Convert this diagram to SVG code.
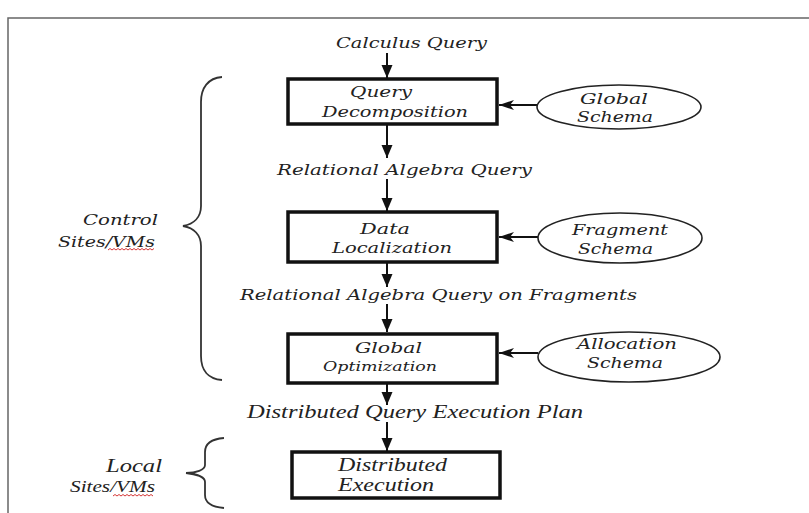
<svg xmlns="http://www.w3.org/2000/svg" width="809" height="513" viewBox="0 0 809 513">
<style>
.bx{fill:#fff;stroke:#111;stroke-width:3.5}
.el{fill:#fff;stroke:#222;stroke-width:1.6}
.ln{stroke:#111;stroke-width:2;fill:none}
.br{stroke:#333;stroke-width:1.8;fill:none}
.t{font-family:"DejaVu Serif",serif;font-style:italic;font-size:15px;fill:#222}
.tm{font-family:"Liberation Serif",serif;font-style:italic;font-size:18px;fill:#222}
.sq{stroke:#d02020;stroke-width:0.9;fill:none}
</style>
<defs>
<marker id="ah" markerUnits="userSpaceOnUse" markerWidth="14" markerHeight="14" viewBox="0 0 14 14" refX="13" refY="7" orient="auto">
<path d="M0,1.5 L13,7 L0,12.5 Z" fill="#111"/>
</marker>
<marker id="ab" markerUnits="userSpaceOnUse" markerWidth="16" markerHeight="12" viewBox="0 0 16 12" refX="15" refY="6" orient="auto">
<path d="M0,1 L15,6 L0,11 L4,6 Z" fill="#111"/>
</marker>
</defs>
<rect width="809" height="513" fill="#fff"/>
<path d="M8,513 L8,18 L809,18" fill="none" stroke="#666" stroke-width="1.5"/>

<g id="connectors">
<line class="ln" x1="387" y1="53" x2="387" y2="78" marker-end="url(#ah)"/>
<line class="ln" x1="387" y1="124" x2="387" y2="158" marker-end="url(#ah)"/>
<line class="ln" x1="387" y1="179" x2="387" y2="211" marker-end="url(#ah)"/>
<line class="ln" x1="387" y1="262" x2="387" y2="287" marker-end="url(#ah)"/>
<line class="ln" x1="387" y1="304" x2="387" y2="332" marker-end="url(#ah)"/>
<line class="ln" x1="387" y1="383" x2="387" y2="405" marker-end="url(#ah)"/>
<line class="ln" x1="387" y1="422" x2="387" y2="451" marker-end="url(#ah)"/>
<line class="ln" x1="537" y1="105" x2="499" y2="105" marker-end="url(#ab)"/>
<line class="ln" x1="538" y1="237" x2="499" y2="237" marker-end="url(#ab)"/>
<line class="ln" x1="538" y1="353" x2="499" y2="353" marker-end="url(#ab)"/>
</g>

<g id="labels">
<text class="t" x="336" y="48" textLength="151" lengthAdjust="spacingAndGlyphs">Calculus Query</text>
<text class="t" x="277" y="175" textLength="255" lengthAdjust="spacingAndGlyphs">Relational Algebra Query</text>
<text class="t" x="240" y="300" textLength="397" lengthAdjust="spacingAndGlyphs">Relational Algebra Query on Fragments</text>
<text class="tm" x="247" y="418" textLength="336" lengthAdjust="spacingAndGlyphs">Distributed Query Execution Plan</text>
</g>

<g id="query-decomposition">
<rect class="bx" x="288" y="79" width="209" height="45"/>
<text class="t" x="350" y="97" textLength="62" lengthAdjust="spacingAndGlyphs">Query</text>
<text class="t" x="322" y="117" textLength="146" lengthAdjust="spacingAndGlyphs">Decomposition</text>
</g>

<g id="data-localization">
<rect class="bx" x="288" y="212" width="209" height="50"/>
<text class="t" x="360" y="234" textLength="50" lengthAdjust="spacingAndGlyphs">Data</text>
<text class="t" x="332" y="253" textLength="120" lengthAdjust="spacingAndGlyphs">Localization</text>
</g>

<g id="global-optimization">
<rect class="bx" x="288" y="334" width="209" height="49"/>
<text class="t" x="355" y="353" textLength="67" lengthAdjust="spacingAndGlyphs">Global</text>
<text class="t" x="323" y="371" textLength="114" lengthAdjust="spacingAndGlyphs" style="font-size:13px">Optimization</text>
</g>

<g id="distributed-execution">
<rect class="bx" x="292" y="452" width="208" height="46"/>
<text class="tm" x="338" y="471" textLength="109" lengthAdjust="spacingAndGlyphs">Distributed</text>
<text class="tm" x="338" y="491" textLength="96" lengthAdjust="spacingAndGlyphs">Execution</text>
</g>

<g id="global-schema">
<ellipse class="el" cx="619" cy="107" rx="82" ry="22"/>
<text class="t" x="580" y="104" textLength="68" lengthAdjust="spacingAndGlyphs">Global</text>
<text class="t" x="577" y="122" textLength="76" lengthAdjust="spacingAndGlyphs">Schema</text>
</g>

<g id="fragment-schema">
<ellipse class="el" cx="620" cy="238" rx="82" ry="25"/>
<text class="t" x="572" y="235" textLength="96" lengthAdjust="spacingAndGlyphs">Fragment</text>
<text class="t" x="578" y="254" textLength="75" lengthAdjust="spacingAndGlyphs">Schema</text>
</g>

<g id="allocation-schema">
<ellipse class="el" cx="629" cy="357" rx="91" ry="25"/>
<text class="t" x="577" y="349" textLength="100" lengthAdjust="spacingAndGlyphs">Allocation</text>
<text class="t" x="587" y="368" textLength="76" lengthAdjust="spacingAndGlyphs">Schema</text>
</g>

<g id="control-sites">
<path class="br" d="M222,77 C208,78 201,88 201,102 L201,206 C201,217 194,224 183,226 C194,228 201,235 201,246 L201,356 C201,370 208,379 222,380"/>
<text class="t" x="83" y="225" textLength="75" lengthAdjust="spacingAndGlyphs">Control</text>
<text class="t" x="58" y="247" textLength="97" lengthAdjust="spacingAndGlyphs">Sites/VMs</text>
<path class="sq" d="M108,250 l2,-1.5 l2,1.5 l2,-1.5 l2,1.5 l2,-1.5 l2,1.5 l2,-1.5 l2,1.5 l2,-1.5 l2,1.5 l2,-1.5 l2,1.5 l2,-1.5 l2,1.5 l2,-1.5 l2,1.5 l2,-1.5 l2,1.5 l2,-1.5 l2,1.5 l2,-1.5 l2,1.5 l2,-1.5"/>
</g>

<g id="local-sites">
<path class="br" d="M224,438 C212,439 205,444 205,452 L205,465 C205,470 196,473 186,473 C196,474 205,477 205,482 L205,495 C205,503 212,507 224,508"/>
<text class="tm" x="106" y="472" textLength="56" lengthAdjust="spacingAndGlyphs">Local</text>
<text class="tm" x="70" y="492" textLength="85" lengthAdjust="spacingAndGlyphs" style="font-size:16px">Sites/VMs</text>
<path class="sq" d="M113,496 l2,-1.5 l2,1.5 l2,-1.5 l2,1.5 l2,-1.5 l2,1.5 l2,-1.5 l2,1.5 l2,-1.5 l2,1.5 l2,-1.5 l2,1.5 l2,-1.5 l2,1.5 l2,-1.5 l2,1.5 l2,-1.5 l2,1.5 l2,-1.5 l2,1.5"/>
</g>
</svg>
